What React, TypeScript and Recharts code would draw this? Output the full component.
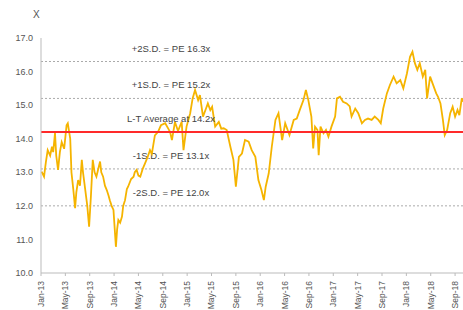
import { LineChart, Line, XAxis, YAxis, ReferenceLine } from "recharts";

// months since Jan-13
const monthPos = [
  0.1, 0.5, 0.8, 1.1, 1.5, 1.8, 2.0, 2.3, 2.5, 2.8, 3.1, 3.4, 3.8, 4.2, 4.4, 4.8,
  5.0, 5.3, 5.6, 5.8, 6.1, 6.4, 6.7, 6.9, 7.2, 7.6, 7.9, 8.2, 8.5, 8.8, 9.1, 9.4,
  9.7, 9.9, 10.2, 10.5, 10.8, 11.1, 11.3, 11.6, 11.9, 12.3, 12.5, 12.7, 13.0, 13.3,
  13.5, 13.8, 14.1, 14.3, 14.8, 15.2, 15.4, 15.7, 16.0, 16.3, 16.7, 17.1, 17.5, 17.9,
  18.2, 18.7, 19.2, 19.7, 20.4, 20.9, 21.2, 21.5, 22.0, 22.5, 23.1, 23.4, 23.9, 24.5,
  24.9, 25.3, 25.8, 26.1, 26.6, 27.1, 27.4, 27.8, 28.1, 28.6, 29.2, 29.6, 30.0, 30.5,
  31.1, 31.6, 32.0, 32.5, 33.0, 33.5, 34.1, 34.6, 35.2, 35.7, 36.2, 36.6, 36.9, 37.4,
  37.9, 38.5, 39.0, 39.6, 40.1, 40.8, 41.5, 42.0, 42.5, 43.1, 43.5, 43.9, 44.4, 44.7,
  45.0, 45.4, 45.6, 45.9, 46.4, 46.8, 47.2, 47.7, 48.3, 48.6, 49.1, 49.6, 50.2, 50.7,
  51.0, 51.6, 52.1, 52.7, 53.2, 53.7, 54.3, 54.8, 55.4, 55.8, 56.2, 56.8, 57.3, 57.9,
  58.4, 59.0, 59.5, 60.1, 60.6, 61.0, 61.4, 61.8, 62.2, 62.7, 63.1, 63.4, 63.9, 64.3,
  64.9, 65.2, 65.6, 66.0, 66.3, 66.7, 67.2, 67.6, 68.0, 68.4, 68.7, 69.1, 69.3,
];

const peValues = [
  13.02, 12.87, 13.3, 13.66, 13.5, 13.76, 13.6, 14.17, 13.5, 13.07, 13.6, 13.9, 13.7, 14.4, 14.46, 14.0,
  13.0, 12.5, 11.93, 12.4, 12.77, 12.6, 13.37, 13.0, 12.57, 12.0, 11.38, 12.3, 13.37, 13.0, 12.87, 13.1,
  13.32, 13.0, 12.87, 12.6, 12.47, 12.3, 12.17, 12.0, 11.88, 10.78, 11.3, 11.58, 11.5, 11.68,
  12.0, 12.17, 12.5, 12.57, 12.8, 12.87, 13.0, 13.07, 12.9, 12.87, 13.1, 13.27, 13.45, 13.66,
  13.55, 14.1, 14.2, 14.4, 14.46, 14.3, 14.2, 13.96, 14.5, 14.23, 14.5, 13.66, 14.36, 14.76,
  15.2, 15.45, 15.15, 15.3, 14.66, 14.9, 15.05, 14.85, 14.95, 14.36, 14.5, 14.3, 14.31, 14.26,
  13.76, 13.37, 12.57, 13.46, 13.56, 13.96, 13.91, 13.66, 13.46, 12.77, 12.47, 12.17, 12.57, 12.97,
  13.76, 14.56, 14.76, 13.96, 14.46, 14.11, 14.56, 14.6, 14.86, 15.15, 15.45, 15.15, 14.66, 13.71,
  14.36, 14.26, 13.51, 14.36, 14.16, 14.26, 14.06, 14.36, 14.66, 15.2, 15.25, 15.1, 15.05, 14.96,
  14.66, 14.9, 14.76, 14.46, 14.56, 14.6, 14.56, 14.66, 14.56, 14.46, 14.9, 15.35, 15.6, 15.85,
  15.65, 15.75, 15.5, 15.95, 16.44, 16.59, 16.25, 16.05, 16.25, 15.85, 16.05, 15.2, 15.85, 15.65,
  15.35, 15.25, 15.05, 14.56, 14.11, 14.26, 14.76, 14.95, 14.66, 14.86, 14.7, 15.2, 15.1,
];

const tickLabels = [
  "Jan-13", "May-13", "Sep-13", "Jan-14", "May-14", "Sep-14", "Jan-15", "May-15", "Sep-15",
  "Jan-16", "May-16", "Sep-16", "Jan-17", "May-17", "Sep-17", "Jan-18", "May-18", "Sep-18",
];

const yTicks = [10, 11, 12, 13, 14, 15, 16, 17];

const bandValues = [16.3, 15.2, 13.1, 12.0];
const bandLabels = ["+2S.D. = PE 16.3x", "+1S.D. = PE 15.2x", "-1S.D. = PE 13.1x", "-2S.D. = PE 12.0x"];
const avgValue = 14.2;
const avgLabel = "L-T Average at 14.2x";

const chartData = monthPos.map((m, i) => ({ m, pe: peValues[i] }));
const monthTicks = tickLabels.map((_, i) => i * 4);

const MonthTick = ({ x, y, payload }: any) => {
  const ty = y + 3;
  return (
    <text
      x={x}
      y={ty}
      transform={`rotate(-90 ${x} ${ty})`}
      textAnchor="end"
      dy="0.35em"
      fontSize={8.5}
      fill="#555"
    >
      {tickLabels[Math.round(payload.value / 4)]}
    </text>
  );
};

const bandText = (text: string) => (props: any) => {
  const vb = props.viewBox;
  return (
    <text x={171} y={vb.y - 10} textAnchor="middle" fontSize={9.5} fill="#444">
      {text}
    </text>
  );
};

export default function App() {
  return (
    <div
      style={{
        position: "fixed",
        left: 0,
        top: 0,
        width: 463,
        height: 310,
        background: "#fff",
        fontFamily: "'Liberation Sans', Arial, sans-serif",
      }}
    >
      <div style={{ position: "absolute", left: 33, top: 9, fontSize: 10, color: "#555" }}>X</div>
      <LineChart
        width={463}
        height={310}
        data={chartData}
        margin={{ top: 38, right: 0, left: 0, bottom: 0 }}
      >
        <XAxis
          dataKey="m"
          type="number"
          domain={[0, 69.3]}
          ticks={monthTicks}
          interval={0}
          height={37}
          tick={<MonthTick />}
          tickSize={3}
          axisLine={{ stroke: "#bbb" }}
          tickLine={{ stroke: "#bbb" }}
        />
        <YAxis
          type="number"
          domain={[10, 17]}
          ticks={yTicks}
          width={41}
          tickFormatter={(v: number) => v.toFixed(1)}
          tick={{ fontSize: 9, fill: "#555" }}
          tickLine={false}
          axisLine={{ stroke: "#bbb" }}
        />
        {bandValues.map((v, i) => (
          <ReferenceLine
            key={v}
            y={v}
            stroke="#aaa"
            strokeDasharray="2 2"
            label={bandText(bandLabels[i])}
          />
        ))}
        <Line
          type="linear"
          dataKey="pe"
          stroke="#f5b400"
          strokeWidth={1.8}
          dot={false}
          isAnimationActive={false}
        />
        <ReferenceLine y={avgValue} stroke="#ff2a2a" strokeWidth={2} label={bandText(avgLabel)} />
      </LineChart>
    </div>
  );
}
